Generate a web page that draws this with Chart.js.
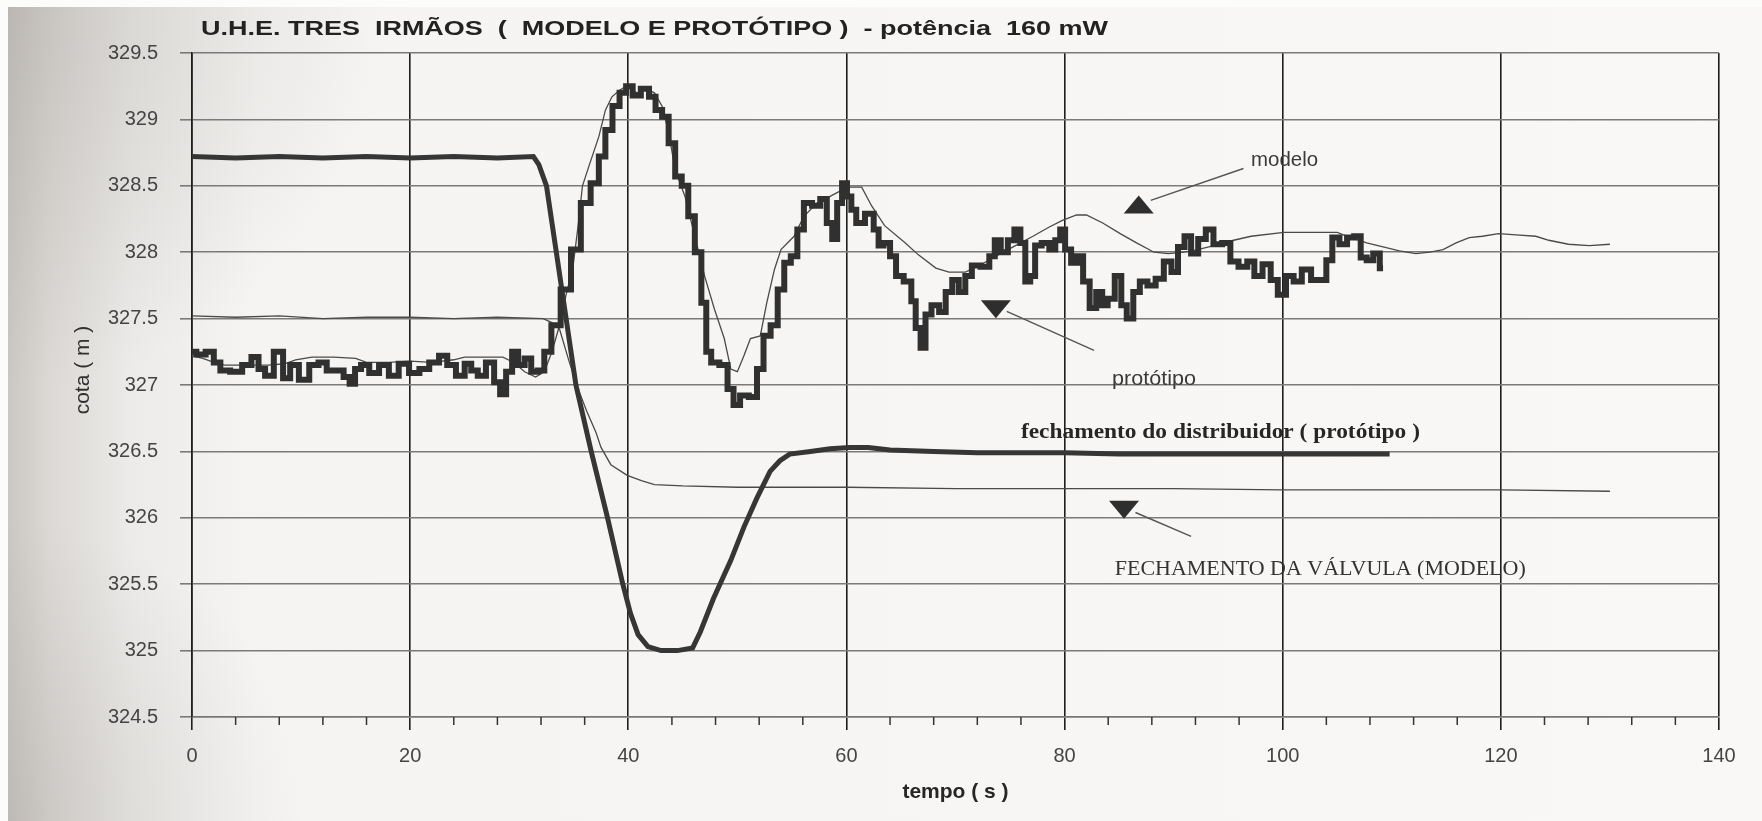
<!DOCTYPE html>
<html>
<head>
<meta charset="utf-8">
<title>U.H.E. Tres Irmãos - modelo e protótipo</title>
<script src="https://cdn.jsdelivr.net/npm/chart.js@4.4.1/dist/chart.umd.min.js"></script>
<style>
  html, body { margin: 0; padding: 0; background: #f7f6f4; }
  canvas { display: block; }
</style>
</head>
<body>
<canvas id="chart" width="1762" height="821"></canvas>
<script>
// ---- cota do reservatório, protótipo (m) ----
const protoTime = [0,0.8,1.7,2.3,2.9,4.1,5.1,5.8,6.4,7.0,
  8.0,8.7,9.3,10.3,11.2,12.0,12.7,13.6,14.2,14.7,
  15.2,15.8,16.7,17.6,18.5,19.4,20.4,21.3,22.2,23.1,
  23.7,24.7,25.3,25.9,26.5,27.4,28.0,28.5,29.1,29.6,
  30.2,30.8,31.4,32.0,32.6,33.3,34.3,35.2,36.1,37.0,
  37.6,38.2,38.9,39.5,40.1,40.7,41.6,42.2,42.8,43.4,
  44.0,44.6,45.2,45.8,46.4,47.0,47.3,47.9,48.8,49.4,
  49.9,50.6,51.5,52.1,52.7,53.4,54.0,54.6,55.2,55.8,
  56.4,57.3,57.9,58.5,58.9,59.4,59.8,60.3,60.6,61.2,
  62.2,62.8,63.1,63.7,64.3,64.8,65.7,66.2,66.5,67.1,
  67.4,68.2,68.8,69.4,70.0,70.6,71.2,71.8,72.8,73.4,
  73.8,74.5,75.1,75.7,76.2,76.6,77.1,77.5,78.3,78.9,
  79.4,79.8,80.3,80.9,81.4,82.0,82.6,83.2,83.7,84.2,
  85.0,85.4,86.0,86.6,87.2,88.0,88.7,89.5,90.1,90.7,
  91.3,91.9,92.6,93.3,94.0,94.9,95.5,96.4,97.1,97.7,
  98.6,99.2,99.9,100.7,101.3,102.2,103.0,103.7,104.3,104.8,
  105.6,106.2,106.9,107.4,108.0,108.6,109.2];
const protoCota = [327.25,327.23,327.25,327.17,327.11,327.10,327.15,327.21,327.12,327.07,
  327.25,327.05,327.15,327.04,327.15,327.17,327.11,327.11,327.06,327.01,
  327.12,327.15,327.09,327.15,327.07,327.16,327.09,327.12,327.17,327.22,
  327.15,327.07,327.16,327.11,327.07,327.17,327.02,326.93,327.10,327.25,
  327.15,327.20,327.10,327.11,327.25,327.45,327.72,328.02,328.37,328.52,
  328.72,328.92,329.10,329.20,329.25,329.18,329.23,329.17,329.07,329.02,
  328.82,328.57,328.50,328.27,328.00,327.62,327.25,327.17,327.15,326.97,
  326.85,326.92,326.91,327.12,327.37,327.45,327.72,327.92,327.97,328.17,
  328.37,328.35,328.40,328.22,328.10,328.37,328.52,328.42,328.32,328.22,
  328.29,328.17,328.05,328.07,327.97,327.82,327.78,327.63,327.43,327.28,
  327.53,327.60,327.55,327.70,327.79,327.70,327.82,327.90,327.89,327.97,
  328.09,328.00,328.09,328.17,328.07,327.78,327.82,328.05,328.07,328.02,
  328.09,328.17,328.02,327.92,327.97,327.78,327.58,327.70,327.60,327.65,
  327.82,327.60,327.50,327.70,327.78,327.75,327.80,327.93,327.85,328.04,
  328.12,327.99,328.10,328.17,328.06,328.07,327.93,327.89,327.93,327.82,
  327.91,327.79,327.68,327.82,327.78,327.87,327.79,327.79,327.94,328.11,
  328.06,328.11,328.12,327.96,327.94,327.99,327.88];

// ---- cota do reservatório, modelo (m) ----
const modelTime = [0,1,2,3,5,7,8.5,9.5,11,13,
  15,16,18,20,22,24,25,27,28.5,29.5,
  30.5,31.5,32.3,33,33.7,34.3,34.9,35.4,35.8,36.4,
  37.3,37.9,38.5,39.2,39.8,40.8,41.6,42.4,43.1,43.7,
  44.3,45.2,46.1,47.0,47.9,48.8,49.4,50.0,50.6,51.2,
  52.1,52.7,53.4,54.0,55.2,56.1,57.3,58.5,59.4,60.3,
  61.4,62.3,63.5,65.4,66.6,68.2,69.4,70.9,72.2,73.7,
  75.5,77.1,78.6,79.8,81.1,82.0,83.5,85.1,86.6,88.2,
  89.5,91,92.2,93.7,95.5,97.1,100.1,103.1,105,106.2,
  107.7,109.2,110.7,112.2,113.5,114.7,115.9,117.1,118.3,119.8,
  121.4,123.2,124.4,126.2,128.1,130.0];
const modelCota = [327.22,327.20,327.17,327.15,327.15,327.15,327.16,327.19,327.21,327.21,
  327.20,327.17,327.17,327.18,327.17,327.19,327.21,327.21,327.21,327.17,
  327.10,327.06,327.10,327.25,327.45,327.68,327.87,328.20,328.50,328.65,
  328.87,329.07,329.17,329.22,329.25,329.20,329.23,329.20,329.10,328.90,
  328.62,328.42,328.12,327.82,327.57,327.35,327.12,327.10,327.22,327.35,
  327.37,327.62,327.87,328.02,328.12,328.27,328.37,328.42,328.46,328.49,
  328.49,328.35,328.20,328.07,327.98,327.88,327.85,327.85,327.90,327.97,
  328.05,328.12,328.19,328.24,328.28,328.28,328.22,328.14,328.07,328.00,
  327.99,328.00,328.02,328.05,328.09,328.12,328.15,328.15,328.15,328.11,
  328.07,328.04,328.01,327.99,328.00,328.02,328.07,328.11,328.12,328.14,
  328.13,328.12,328.09,328.06,328.05,328.06];

// ---- fechamento do distribuidor (protótipo) ----
const distTime = [0,4,8,12,16,20,24,28,31.3,31.8,
  32.5,33.4,34.3,35.2,36.6,38.1,39.5,40.2,40.9,41.8,
  43.0,44.5,45.9,46.6,47.8,49.4,50.6,51.8,53.0,53.9,
  54.8,56.7,58.5,60.3,62.0,64,68,72,76,80,
  85,90,95,100,105,109.8];
const distCota = [328.72,328.71,328.72,328.71,328.72,328.71,328.72,328.71,328.72,328.66,
  328.50,328.00,327.50,327.00,326.50,326.00,325.50,325.28,325.12,325.03,
  325.00,325.00,325.02,325.14,325.39,325.68,325.93,326.15,326.35,326.43,
  326.48,326.50,326.52,326.53,326.53,326.51,326.50,326.49,326.49,326.49,
  326.48,326.48,326.48,326.48,326.48,326.48];

// ---- fechamento da válvula (modelo) ----
const valveTime = [0,4,8,12,16,20,24,28,32.2,33.0,
  33.7,34.6,35.5,36.2,37.05,37.5,38.4,39.9,41.2,42.4,
  45,50,60,70,80,90,100,110,120,130];
const valveCota = [327.52,327.51,327.52,327.50,327.51,327.51,327.50,327.51,327.50,327.47,
  327.42,327.17,326.95,326.80,326.64,326.53,326.40,326.32,326.28,326.25,
  326.24,326.23,326.23,326.22,326.22,326.22,326.21,326.21,326.21,326.20];

// ---- axes ----
const timeMin = 0, timeMax = 140, timeStep = 20, timeMinorStep = 4;
const cotaMin = 324.5, cotaMax = 329.5, cotaStep = 0.5;

// ---- texts ----
const chartTitle = 'U.H.E. TRES  IRMÃOS  (  MODELO E PROTÓTIPO )  - potência  160 mW';
const xTitle = 'tempo ( s )';
const yTitle = 'cota ( m )';

// callout labels, anchored at (time, cota)
const labelText = ['modelo', 'protótipo', 'fechamento do distribuidor ( protótipo )', 'FECHAMENTO DA VÁLVULA (MODELO)'];
const labelTime = [97.1, 84.35, 76.0, 84.6];
const labelCota = [328.69, 327.04, 326.64, 325.61];

// pointer lines: from (t0, c0) to (t1, c1)
const arrowT0 = [87.9, 74.7, 86.5];
const arrowC0 = [328.39, 327.555, 326.04];
const arrowT1 = [96.4, 82.7, 91.6];
const arrowC1 = [328.63, 327.26, 325.86];

// triangle markers: centre (time, cota), direction
const markerTime = [86.8, 73.7, 85.45];
const markerCota = [328.36, 327.57, 326.06];
const markerDir  = ['up', 'down', 'down'];

const pts = (xs, ys) => xs.map((t, i) => ({ x: t, y: ys[i] }));

const SANS = '"Liberation Sans", Arial, sans-serif';
const SERIF = '"Liberation Serif", "Times New Roman", serif';

function drawFitted(ctx, text, x, y, width, font, color) {
  ctx.save();
  ctx.font = font;
  ctx.fillStyle = color;
  ctx.textAlign = 'left';
  ctx.textBaseline = 'middle';
  const w = ctx.measureText(text).width;
  ctx.translate(x, y);
  ctx.scale(width / w, 1);
  ctx.fillText(text, 0, 0);
  ctx.restore();
}

// paper background
const paper = {
  id: 'paper',
  beforeDraw(chart) {
    const { ctx, width, height } = chart;
    ctx.save();
    ctx.fillStyle = '#fcfcfb';
    ctx.fillRect(0, 0, width, height);
    const g = ctx.createLinearGradient(8, 0, width, 0);
    g.addColorStop(0, '#cbc7c3');
    g.addColorStop(0.025, '#dcd9d6');
    g.addColorStop(0.07, '#ecebe9');
    g.addColorStop(0.14, '#f5f4f2');
    g.addColorStop(1, '#f9f8f6');
    ctx.fillStyle = g;
    ctx.fillRect(8, 7, width - 8, height - 7);
    const r1 = ctx.createRadialGradient(8, 7, 0, 8, 7, 380);
    r1.addColorStop(0, 'rgba(150,145,140,0.30)');
    r1.addColorStop(1, 'rgba(150,145,140,0)');
    ctx.fillStyle = r1;
    ctx.fillRect(8, 7, width - 8, height - 7);
    const r2 = ctx.createRadialGradient(8, height, 0, 8, height, 300);
    r2.addColorStop(0, 'rgba(150,145,140,0.25)');
    r2.addColorStop(1, 'rgba(150,145,140,0)');
    ctx.fillStyle = r2;
    ctx.fillRect(8, 7, width - 8, height - 7);
    ctx.restore();
  }
};

// minor ticks under the time axis
const minorTicks = {
  id: 'minorTicks',
  afterDraw(chart) {
    const { ctx, chartArea, scales: { x } } = chart;
    ctx.save();
    ctx.strokeStyle = '#333';
    ctx.lineWidth = 1.5;
    for (let t = timeMin + timeMinorStep; t < timeMax; t += timeMinorStep) {
      if (t % timeStep === 0) continue;
      const px = x.getPixelForValue(t);
      ctx.beginPath();
      ctx.moveTo(px, chartArea.bottom);
      ctx.lineTo(px, chartArea.bottom + 8);
      ctx.stroke();
    }
    ctx.restore();
  }
};

// title, y axis title, callouts
const texts = {
  id: 'texts',
  afterDraw(chart) {
    const { ctx, scales: { x, y } } = chart;
    const P = (t, c) => [x.getPixelForValue(t), y.getPixelForValue(c)];

    drawFitted(ctx, chartTitle, 201, 29, 907, 'bold 20px ' + SANS, '#222222');

    ctx.save();
    ctx.translate(83, 370);
    ctx.rotate(-Math.PI / 2);
    ctx.font = '21px ' + SANS;
    ctx.fillStyle = '#303030';
    ctx.textAlign = 'center';
    ctx.textBaseline = 'middle';
    ctx.fillText(yTitle, 0, 0);
    ctx.restore();

    // pointer lines
    ctx.save();
    ctx.strokeStyle = '#555';
    ctx.lineWidth = 1.4;
    for (let i = 0; i < arrowT0.length; i++) {
      const [x0, y0] = P(arrowT0[i], arrowC0[i]);
      const [x1, y1] = P(arrowT1[i], arrowC1[i]);
      ctx.beginPath();
      ctx.moveTo(x0, y0);
      ctx.lineTo(x1, y1);
      ctx.stroke();
    }
    // triangle markers
    ctx.fillStyle = '#2e2e2e';
    for (let i = 0; i < markerTime.length; i++) {
      const [cx, cy] = P(markerTime[i], markerCota[i]);
      const hw = 15, hh = 9;
      ctx.beginPath();
      if (markerDir[i] === 'up') {
        ctx.moveTo(cx, cy - hh); ctx.lineTo(cx + hw, cy + hh); ctx.lineTo(cx - hw, cy + hh);
      } else {
        ctx.moveTo(cx - hw, cy - hh); ctx.lineTo(cx + hw, cy - hh); ctx.lineTo(cx, cy + hh);
      }
      ctx.closePath();
      ctx.fill();
    }
    ctx.restore();

    const labelFont = ['20px ' + SANS, '20px ' + SANS, 'bold 20px ' + SERIF, '20px ' + SERIF];
    const labelWidth = [67, 84, 399, 411];
    const labelColor = ['#3a3a3a', '#3a3a3a', '#262626', '#333333'];
    for (let i = 0; i < labelText.length; i++) {
      const [lx, ly] = P(labelTime[i], labelCota[i]);
      drawFitted(ctx, labelText[i], lx, ly, labelWidth[i], labelFont[i], labelColor[i]);
    }
  }
};

new Chart(document.getElementById('chart'), {
  type: 'line',
  data: {
    datasets: [
      { label: 'protótipo', data: pts(protoTime, protoCota), borderColor: '#303030', borderWidth: 6, stepped: 'middle', order: 1 },
      { label: 'modelo', data: pts(modelTime, modelCota), borderColor: '#4a4a4a', borderWidth: 1.3, order: 3 },
      { label: 'fechamento do distribuidor ( protótipo )', data: pts(distTime, distCota), borderColor: '#363636', borderWidth: 5, order: 2 },
      { label: 'fechamento da válvula (modelo)', data: pts(valveTime, valveCota), borderColor: '#4a4a4a', borderWidth: 1.3, order: 4 }
    ]
  },
  options: {
    responsive: false,
    animation: false,
    parsing: false,
    layout: { padding: { left: 0, right: 43, top: 53, bottom: 0 } },
    elements: {
      point: { radius: 0 },
      line: { tension: 0, fill: false, borderJoinStyle: 'miter', borderCapStyle: 'butt' }
    },
    plugins: { legend: { display: false }, tooltip: { enabled: false }, title: { display: false } },
    scales: {
      x: {
        type: 'linear', min: timeMin, max: timeMax,
        ticks: { stepSize: timeStep, padding: 14, maxRotation: 0, color: '#444', font: { family: SANS, size: 20 } },
        grid: { color: '#1e1e1e', lineWidth: 1.6, tickLength: 13, drawTicks: true },
        border: { display: true, color: '#777', width: 1.6 },
        title: { display: true, text: xTitle, color: '#262626', font: { family: SANS, size: 21, weight: 'bold' }, padding: { top: 0, bottom: 16 } },
        afterFit: s => { s.height = 104; }
      },
      y: {
        type: 'linear', min: cotaMin, max: cotaMax,
        ticks: {
          stepSize: cotaStep, padding: 22, color: '#444', font: { family: SANS, size: 20 },
          callback: v => (Number.isInteger(v) ? String(v) : v.toFixed(1))
        },
        grid: { color: '#7a7a7a', lineWidth: 1.6, tickLength: 12, drawTicks: true },
        border: { display: true, color: '#1e1e1e', width: 1.6 },
        afterFit: s => { s.width = 192; }
      }
    }
  },
  plugins: [paper, minorTicks, texts]
});
</script>
</body>
</html>
